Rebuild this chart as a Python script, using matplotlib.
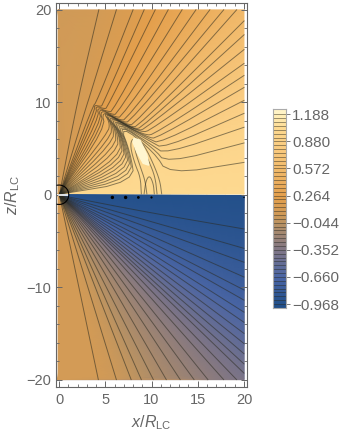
import numpy as np
import matplotlib
matplotlib.use('Agg')
import matplotlib.pyplot as plt
import matplotlib.tri as mtri
from matplotlib.colors import LinearSegmentedColormap
from matplotlib.patches import Arc

plt.rcParams['font.family'] = ['Liberation Sans', 'DejaVu Sans']
plt.rcParams['mathtext.fontset'] = 'custom'
plt.rcParams['mathtext.rm'] = 'Liberation Sans'
plt.rcParams['mathtext.it'] = 'Liberation Sans:italic'

GRAY = '#666666'

# upper half contours (end on frame, knee, shoulder, tip, band, fan knee)
upper_levels = [0.088, 0.132, 0.176, 0.220, 0.264, 0.308, 0.352, 0.396, 0.440, 0.484, 0.528,
                0.572, 0.616, 0.660, 0.704, 0.748, 0.792, 0.836, 0.880, 0.924, 0.968, 1.012]
end_x = [4.3, 6.2, 8.0, 9.2, 10.4, 11.8, 13.3, 14.8, 16.3, 17.8, 19.2,
         20, 20, 20, 20, 20, 20, 20, 20, 20, 20, 20]
end_z = [20, 20, 20, 20, 20, 20, 20, 20, 20, 20, 20,
         18.8, 17.3, 15.7, 14.2, 12.9, 11.6, 10.2, 8.8, 7.3, 5.6, 3.5]
knee_x = [2.0, 3.3, 4.1, 4.7, 5.2, 5.8, 6.3, 6.8, 7.3, 7.7, 8.2,
          8.6, 9.0, 9.4, 10.0, 10.4, 10.6, 10.9, 11.3, 11.5, 11.6, 11.8]
knee_z = [10.2, 10.6, 10.1, 9.7, 9.4, 9.0, 8.7, 8.4, 8.1, 7.9, 7.6,
          7.4, 7.3, 7.2, 7.05, 6.6, 6.1, 5.55, 5.0, 4.4, 3.4, 2.2]
shoulder_x = [np.nan, np.nan, np.nan, 4.5, 4.9, 5.3, 5.7, 6.1, 6.5, 6.9, 7.3,
              7.7, 8.1, 8.5, 8.9, 9.3, 9.6, 9.8, 10.0, 10.15, 10.25, 10.3]
shoulder_z = [np.nan, np.nan, np.nan, 9.55, 9.3, 9.0, 8.7, 8.4, 8.1, 7.85, 7.6,
              7.35, 7.1, 6.9, 6.7, 6.4, 6.2, 6.0, 5.7, 5.3, 5.0, 4.6]
tip_x = [np.nan, np.nan, np.nan, 3.8, 3.95, 4.1, 4.25, 4.4, 4.6, 4.75, 4.9,
         5.05, 5.2, 5.35, 5.5, 5.65, 5.8, 5.95, 6.1, 6.25, 6.4, 6.55]
tip_z = [np.nan, np.nan, np.nan, 9.7, 9.6, 9.45, 9.35, 9.25, 9.1, 9.0, 8.9,
         8.8, 8.65, 8.55, 8.45, 8.3, 8.2, 8.1, 7.95, 7.85, 7.75, 7.6]
band_x = [np.nan, np.nan, np.nan, np.nan, np.nan, np.nan, np.nan, np.nan, np.nan, 5.5, 5.7,
          5.9, 6.1, 6.3, 6.5, 6.65, 6.8, 6.95, 7.1, 7.3, 7.5, 7.7]
band_z = [np.nan, np.nan, np.nan, np.nan, np.nan, np.nan, np.nan, np.nan, np.nan, 7.8, 7.6,
          7.3, 7.1, 6.8, 6.55, 6.3, 6.1, 5.85, 5.6, 5.3, 5.0, 4.6]
fan_x = [np.nan, 3.0, 3.6, 3.9, 4.1, 4.35, 4.6, 4.8, 5.0, 5.3, 5.6,
         5.85, 6.15, 6.4, 6.7, 6.9, 7.15, 7.35, 7.6, 7.8, 8.0, 8.2]
fan_z = [np.nan, 9.7, 9.5, 9.2, 8.8, 8.4, 8.0, 7.6, 7.2, 6.7, 6.2,
         5.7, 5.2, 4.7, 4.2, 3.8, 3.4, 3.0, 2.6, 2.2, 1.8, 1.4]

# the lines around the bright blob
u1_x = [11.1, 10.9, 10.2, 9.3, 8.6, 7.9, 7.7, 8.2, 8.8, 8.9]
u1_z = [0.1, 1.55, 3.35, 5.2, 5.9, 6.1, 5.2, 3.35, 1.9, 0.1]
u2_x = [10.6, 10.4, 9.7, 8.8, 8.2, 8.2, 8.8, 9.3, 9.5]
u2_z = [0.1, 1.9, 3.7, 5.5, 5.7, 4.8, 3.0, 1.55, 0.1]
u3_x = [10.3, 10.2, 9.8, 9.4, 9.2]
u3_z = [0.1, 1.2, 2.1, 1.55, 0.1]
blob_x = [8.1, 8.75, 9.5, 9.7, 9.1, 8.4, 8.0]
blob_z = [6.1, 5.9, 4.3, 3.2, 3.4, 4.65, 5.7]

# lower half, straight lines out of the origin
lower_levels = [-0.924, -0.880, -0.836, -0.792, -0.748, -0.704, -0.660, -0.616, -0.572, -0.528, -0.484, -0.440,
                -0.396, -0.352, -0.308, -0.264, -0.220, -0.176, -0.132, -0.088, -0.044, 0.000, 0.044, 0.088]
lower_x = [20, 20, 20, 20, 20, 20, 20, 20, 20, 20, 20, 20, 20,
           19.2, 17.8, 16.1, 14.6, 13.1, 11.6, 10.2, 8.9, 7.8, 6.2, 4.25]
lower_z = [-3.7, -5.8, -7.3, -8.9, -10.3, -11.4, -12.7, -13.8, -15.0, -16.1, -17.2, -18.3, -19.3,
           -20, -20, -20, -20, -20, -20, -20, -20, -20, -20, -20]

dot_x = [5.77, 7.2, 8.58, 10.0, 20.0]
dot_z = [-0.29, -0.29, -0.29, -0.29, -0.29]
dot_size = [6, 6, 4, 2.5, 1]

bar_ticks = [1.188, 0.880, 0.572, 0.264, -0.044, -0.352, -0.660, -0.968]
bar_levels = np.arange(-0.968, 1.2, 0.044)

cmap_values = [-1.013, -0.968, -0.66, -0.35, -0.044, 0.05, 0.264, 0.572, 0.88, 1.03, 1.188, 1.248]
cmap_colors = ['#1f4d86', '#23508a', '#4a65a5', '#7f7585', '#b99263', '#cf9a58', '#e49f4c',
               '#f2bb6c', '#fbd086', '#fdd88f', '#fff0bb', '#fff6cf']
vmin, vmax = -1.013, 1.248
cmap = LinearSegmentedColormap.from_list(
    'field', [((v - vmin) / (vmax - vmin), c) for v, c in zip(cmap_values, cmap_colors)])


def smooth(x, z, n=2):
    # corner cutting so the contours are not so angular
    pts = np.column_stack([x, z])
    for _ in range(n):
        q = 0.75 * pts[:-1] + 0.25 * pts[1:]
        r = 0.25 * pts[:-1] + 0.75 * pts[1:]
        new = np.empty((2 * len(q), 2))
        new[0::2] = q
        new[1::2] = r
        pts = np.vstack([pts[:1], new, pts[-1:]])
    return pts


def sample(pts, step=0.8):
    # points along a line, only used for the shading
    d = np.r_[0, np.cumsum(np.hypot(*np.diff(pts, axis=0).T))]
    s = np.arange(0, d[-1], step)
    return np.column_stack([np.interp(s, d, pts[:, 0]), np.interp(s, d, pts[:, 1])])


upper_lines = []
for i in range(len(end_x)):
    xs = [end_x[i], knee_x[i], shoulder_x[i], tip_x[i], band_x[i], fan_x[i], 0.05]
    zs = [end_z[i], knee_z[i], shoulder_z[i], tip_z[i], band_z[i], fan_z[i], 0.05]
    xs, zs = zip(*[(a, b) for a, b in zip(xs, zs) if not np.isnan(a)])
    upper_lines.append(smooth(xs, zs))
u_lines = [smooth(u1_x, u1_z), smooth(u2_x, u2_z), smooth(u3_x, u3_z)]

lower_lines = []
for i in range(len(lower_x)):
    if i == 0:
        lower_lines.append(smooth([0.05, 9.84, lower_x[i]], [-0.05, -1.95, lower_z[i]]))
    else:
        lower_lines.append(np.array([[0.05, -0.05], [lower_x[i], lower_z[i]]]))

fig = plt.figure(figsize=(3.48, 4.34), dpi=100)
W, H = 348.0, 434.0
ax = fig.add_axes([55.7 / W, 1 - 387 / H, (247.3 - 55.7) / W, (387 - 2.5) / H])
ax.set_xlim(-0.36, 20.36)
ax.set_ylim(-20.8, 20.8)


def shade(lines, levels, extra):
    px, pz, pv = [], [], []
    for pts, lev in zip(lines, levels):
        s = sample(pts)
        keep = np.hypot(s[:, 0], s[:, 1]) > 0.4
        px += list(s[keep, 0])
        pz += list(s[keep, 1])
        pv += [lev] * keep.sum()
        px.append(pts[0, 0])
        pz.append(pts[0, 1])
        pv.append(lev)
    for a, b, c in extra:
        px.append(a)
        pz.append(b)
        pv.append(c)
    tri = mtri.Triangulation(px, pz)
    ax.tripcolor(tri, pv, shading='gouraud', cmap=cmap, vmin=vmin, vmax=vmax, zorder=1)


gap = 0.08
top_extra = [(-0.1, gap, 0.05), (-0.1, 20, 0.05), (20, 20, 0.55)]
top_extra += [(v, gap, 1.03) for v in [0.7, 2, 4, 6, 8, 12, 14, 16, 18, 20]]
shade(upper_lines, upper_levels, top_extra)
low_extra = [(-0.1, -gap, 0.09), (-0.1, -20, 0.09), (20, -20, -0.374)]
low_extra += [(v, -gap, -0.968) for v in [0.7, 2, 4, 6, 8, 10, 12, 14, 16, 18, 20]]
shade(lower_lines, lower_levels, low_extra)

ax.fill(blob_x, blob_z, color='#fff6d0', zorder=4)

line_kw = dict(color='#2a2a20', alpha=0.55, lw=0.7, zorder=3, solid_joinstyle='round')
for pts in upper_lines + u_lines + lower_lines:
    ax.plot(pts[:, 0], pts[:, 1], **line_kw)

ax.plot([0.0, 1.0], [0, 0], color='white', lw=1.2, zorder=4)
ax.add_patch(Arc((0, 0), 2.1, 2.1, theta1=-105, theta2=105, color='black', lw=0.8, zorder=5))
ax.scatter(dot_x, dot_z, s=dot_size, color='black', linewidths=0, zorder=5)

ax.set_xticks([0, 5, 10, 15, 20])
ax.set_yticks([-20, -10, 0, 10, 20])
ax.set_yticklabels(['\u221220', '\u221210', '0', '10', '20'])
ax.set_xticks(np.arange(0, 21), minor=True)
ax.set_yticks(np.arange(-20, 21, 2), minor=True)
ax.tick_params(which='major', direction='in', length=4.2, width=0.7, color=GRAY,
               labelcolor=GRAY, labelsize=10.5, top=True, right=True, pad=3)
ax.tick_params(axis='x', which='major', pad=4)
ax.tick_params(which='minor', direction='in', length=2, width=0.6, color=GRAY, top=True, right=True)
for s in ax.spines.values():
    s.set_color(GRAY)
    s.set_linewidth(0.8)
ax.set_xlabel(r'$x/R_{\mathrm{LC}}$', fontsize=11.5, color=GRAY, labelpad=5)
ax.set_ylabel(r'$z/R_{\mathrm{LC}}$', fontsize=11.5, color=GRAY, labelpad=3)

# colour bar
cax = fig.add_axes([272.7 / W, 1 - 308 / H, 13 / W, 199 / H])
edges = np.r_[vmin, bar_levels, vmax]
cax.pcolormesh([0, 1], edges, ((edges[:-1] + edges[1:]) / 2)[:, None], cmap=cmap, vmin=vmin, vmax=vmax)
cax.hlines(bar_levels, 0, 1, color='#2a2a20', alpha=0.55, lw=0.6)
cax.set_xlim(0, 1)
cax.set_ylim(vmin, vmax)
cax.set_xticks([])
cax.yaxis.tick_right()
cax.set_yticks(bar_ticks)
cax.set_yticklabels([f'{t:.3f}'.replace('-', '\u2212') for t in bar_ticks])
cax.tick_params(axis='y', direction='out', length=3, width=0.6, color=GRAY, labelcolor=GRAY,
                labelsize=11, pad=1.5)
for s in cax.spines.values():
    s.set_color('#aaaaaa')
    s.set_linewidth(0.8)

fig.savefig('out.png', dpi=100)
